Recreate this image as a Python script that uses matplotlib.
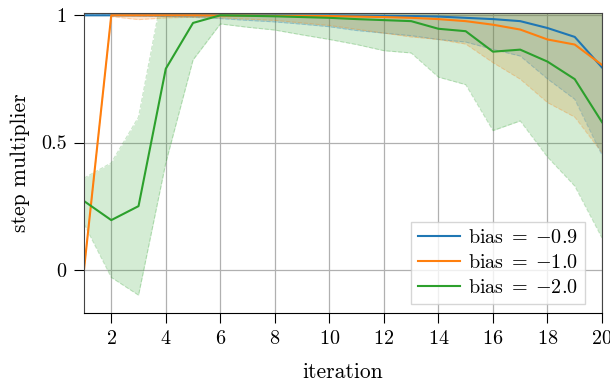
import matplotlib
matplotlib.use("Agg")
import matplotlib.pyplot as plt
import numpy as np

plt.rcParams['font.family'] = 'serif'
plt.rcParams['font.serif'] = ['cmr10']
plt.rcParams['mathtext.fontset'] = 'cm'
plt.rcParams['axes.formatter.use_mathtext'] = True
plt.rcParams['font.size'] = 14.5

iterations = list(range(1, 21))

blue_mean = [1.0, 1.0, 1.0, 1.0, 1.0, 1.0, 1.0, 1.0, 1.0, 1.0,
             0.999, 0.998, 0.997, 0.995, 0.99, 0.985, 0.977, 0.95, 0.915, 0.795]
blue_std = [0.0, 0.0, 0.002, 0.005, 0.008, 0.013, 0.02, 0.026, 0.035, 0.045,
            0.059, 0.068, 0.077, 0.09, 0.095, 0.119, 0.137, 0.2, 0.245, 0.345]

orange_mean = [0.0, 1.0, 1.0, 1.0, 1.0, 0.999, 0.999, 0.998, 0.998, 0.997,
               0.995, 0.993, 0.99, 0.985, 0.977, 0.963, 0.944, 0.905, 0.885, 0.805]
orange_std = [0.0, 0.005, 0.017, 0.01, 0.008, 0.009, 0.014, 0.018, 0.028, 0.037,
              0.05, 0.063, 0.075, 0.08, 0.09, 0.149, 0.195, 0.248, 0.285, 0.345]

green_mean = [0.27, 0.195, 0.25, 0.79, 0.97, 1.0, 0.998, 0.996, 0.993, 0.99,
              0.985, 0.981, 0.977, 0.947, 0.9375, 0.857, 0.865, 0.818, 0.749, 0.58]
green_std = [0.09, 0.225, 0.35, 0.37, 0.145, 0.034, 0.045, 0.054, 0.07, 0.085,
             0.10, 0.12, 0.125, 0.19, 0.21, 0.31, 0.28, 0.375, 0.42, 0.455]

labels = [r'bias$\;=\;{-0.9}$', r'bias$\;=\;{-1.0}$', r'bias$\;=\;{-2.0}$']
colors = ['#1f77b4', '#ff7f0e', '#2ca02c']
xticks = [2, 4, 6, 8, 10, 12, 14, 16, 18, 20]
yticks = [0, 0.5, 1]
yticklabels = ['0', '0.5', '1']

fig = plt.figure(figsize=(6.1, 3.83), dpi=100)
ax = fig.add_axes([84/610, 70/383, 518/610, 300/383])

x = np.array(iterations)
series = [(blue_mean, blue_std), (orange_mean, orange_std), (green_mean, green_std)]
for (m, s), c in zip(series, colors):
    m = np.array(m); s = np.array(s)
    ax.fill_between(x, m - s, m + s, color=c, alpha=0.2, lw=0)
    ax.plot(x, m - s, color=c, alpha=0.25, lw=0.8, ls='--')
    ax.plot(x, m + s, color=c, alpha=0.25, lw=0.8, ls='--')
for (m, s), c, lab in zip(series, colors, labels):
    ax.plot(x, m, color=c, lw=1.5, label=lab)

ax.set_xlim(1, 20)
ax.set_ylim(-0.17, 1.009)
ax.set_xticks(xticks)
ax.set_yticks(yticks)
ax.set_yticklabels(yticklabels)
ax.set_axisbelow(True)
ax.grid(True, color='#b0b0b0', lw=0.9)
ax.tick_params(direction='out', length=7.5, width=0.8, colors='black', pad=5)
for sp in ['left', 'top', 'right']:
    ax.spines[sp].set_color('#444444')
ax.spines['bottom'].set_color('black')

ax.set_xlabel('iteration', fontsize=15.5, labelpad=10)
ax.set_ylabel('step multiplier', fontsize=15.5, labelpad=8)

leg = ax.legend(loc='lower right', bbox_to_anchor=(0.967, 0.03), borderaxespad=0,
                fancybox=False, framealpha=0.8, edgecolor='#cccccc',
                handlelength=2.1, handletextpad=0.4, labelspacing=0.35,
                borderpad=0.35)

fig.savefig('out.png', dpi=100)
